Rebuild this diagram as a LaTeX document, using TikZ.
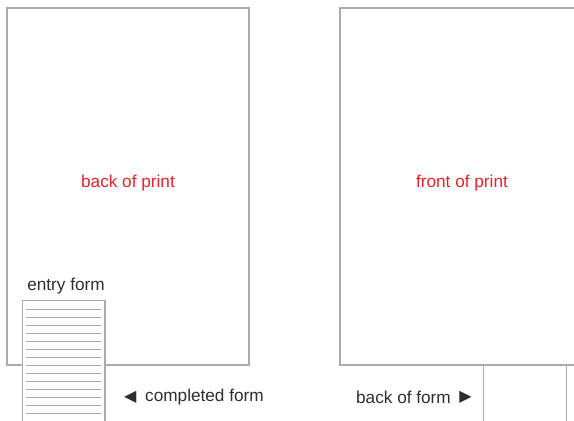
\documentclass[tikz,border=0pt]{standalone}
\usepackage{fontspec}
\setmainfont{Liberation Sans}
\newfontfamily\symfont{DejaVu Sans}
\definecolor{edge}{HTML}{ABABAB}
\definecolor{rule}{HTML}{A8A8A8}
\definecolor{redtxt}{HTML}{E8202A}
\definecolor{dark}{HTML}{2E2E2E}
\begin{document}
\begin{tikzpicture}[x=1pt,y=-1pt,
  sheet/.style={draw=edge,line width=1.4pt},
  formline/.style={draw=rule,line width=1pt},
  lbl/.style={font=\fontsize{17.2}{20}\selectfont,text=dark,inner sep=0pt},
  redlbl/.style={font=\fontsize{17.2}{20}\selectfont,text=redtxt,inner sep=0pt},
  tri/.style={font=\symfont\fontsize{16}{18}\selectfont,text=dark,inner sep=0pt}]
\useasboundingbox (0,0) rectangle (574,421);
% back of print
\draw[sheet] (7,8) rectangle (249,365);
% front of print
\draw[sheet] (576,8) -- (340,8) -- (340,365) -- (576,365);
\draw[sheet] (483.7,365) -- (483.7,422);
\draw[sheet] (566.3,365) -- (566.3,422);
% entry form
\draw[sheet,fill=white] (22.3,423) -- (22.3,300.5) -- (105,300.5) -- (105,423);
\foreach \i in {0,...,13} {
  \draw[formline] (26,309.7+8*\i) -- (101,309.7+8*\i);
}
\node[redlbl] (back) at (128,183) {back of print};
\node[redlbl] (front) at (462,183) {front of print};
\node[lbl] (entry) at (66,286) {entry form};
\node[tri,anchor=west] (larrow) at (124,397) {◀};
\node[lbl,anchor=west] (completed) at (145,397) {completed form};
\node[lbl,anchor=east] (backform) at (451,397) {back of form};
\node[tri,anchor=east] (rarrow) at (472,397) {▶};
\end{tikzpicture}
\end{document}
